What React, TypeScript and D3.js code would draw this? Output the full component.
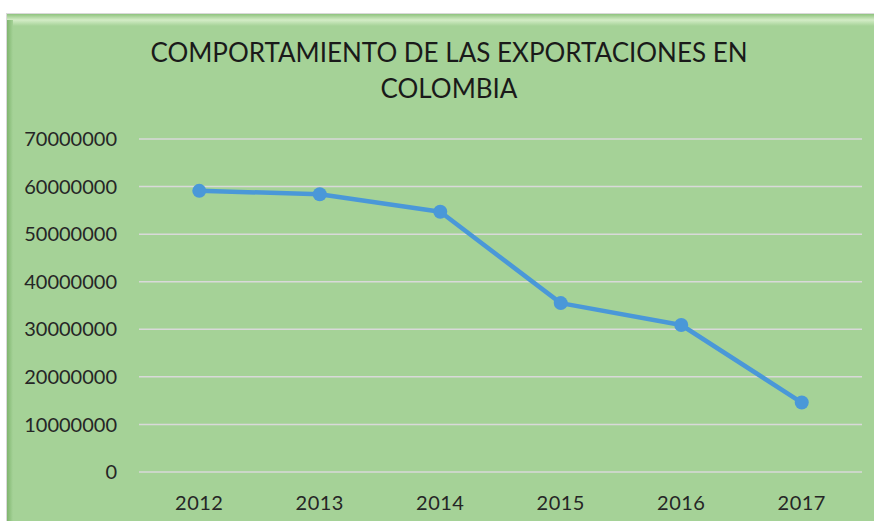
import { useEffect, useRef } from 'react';
import * as d3 from 'd3';

const years = ['2012', '2013', '2014', '2015', '2016', '2017'];
const exports = [59100000, 58400000, 54700000, 35500000, 30900000, 14600000];
const yTicks = [0, 10000000, 20000000, 30000000, 40000000, 50000000, 60000000, 70000000];
const titleLines = ['COMPORTAMIENTO DE LAS EXPORTACIONES EN', 'COLOMBIA'];

const W = 874;
const H = 521;
const FONT = 'Lato, "Liberation Sans", sans-serif';

export default function App() {
  const svgRef = useRef<SVGSVGElement>(null);

  useEffect(() => {
    if (!svgRef.current) return;
    const svg = d3.select(svgRef.current);
    svg.selectAll('*').remove();

    const defs = svg.append('defs');
    const topGrad = defs.append('linearGradient').attr('id', 'topBevel').attr('x1', 0).attr('y1', 0).attr('x2', 0).attr('y2', 1);
    topGrad.append('stop').attr('offset', '0%').attr('stop-color', '#8fc37e');
    topGrad.append('stop').attr('offset', '50%').attr('stop-color', '#d3ecc6');
    topGrad.append('stop').attr('offset', '100%').attr('stop-color', '#a5d297');
    const leftGrad = defs.append('linearGradient').attr('id', 'leftBevel').attr('x1', 0).attr('y1', 0).attr('x2', 1).attr('y2', 0);
    leftGrad.append('stop').attr('offset', '0%').attr('stop-color', '#7fb56e');
    leftGrad.append('stop').attr('offset', '100%').attr('stop-color', '#a5d297');

    // chart area with bevel
    svg.append('rect').attr('x', 0).attr('y', 0).attr('width', W).attr('height', H).attr('fill', '#ffffff');
    svg.append('rect').attr('x', 6).attr('y', 13).attr('width', W - 6).attr('height', H - 13).attr('fill', '#d9d9d9');
    svg.append('rect').attr('x', 7).attr('y', 14).attr('width', W - 7).attr('height', H - 14).attr('fill', '#a5d297');
    svg.append('rect').attr('x', 7).attr('y', 14).attr('width', W - 7).attr('height', 12).attr('fill', 'url(#topBevel)');
    svg.append('rect').attr('x', 7).attr('y', 20).attr('width', 6).attr('height', H - 20).attr('fill', 'url(#leftBevel)');

    const left = 139;
    const right = 862;
    const top = 139;
    const bottom = 472;

    const x = d3.scaleBand<string>().domain(years).range([left, right]);
    const y = d3.scaleLinear().domain([0, 70000000]).range([bottom, top]);

    // gridlines
    svg.append('g')
      .selectAll('line')
      .data(yTicks)
      .join('line')
      .attr('x1', left)
      .attr('x2', right)
      .attr('y1', (d) => y(d))
      .attr('y2', (d) => y(d))
      .attr('stroke', '#d9d9d9')
      .attr('stroke-width', 1.5);

    // y labels
    svg.append('g')
      .selectAll('text')
      .data(yTicks)
      .join('text')
      .attr('x', 117)
      .attr('y', (d) => y(d))
      .attr('dy', '0.36em')
      .attr('text-anchor', 'end')
      .attr('font-family', FONT)
      .attr('font-size', 20)
      .attr('fill', '#262626')
      .text((d) => String(d));

    // x labels
    svg.append('g')
      .selectAll('text')
      .data(years)
      .join('text')
      .attr('x', (d) => (x(d) ?? 0) + x.bandwidth() / 2)
      .attr('y', 510)
      .attr('text-anchor', 'middle')
      .attr('font-family', FONT)
      .attr('font-size', 20)
      .attr('letter-spacing', 0.5)
      .attr('fill', '#262626')
      .text((d) => d);

    // title
    svg.append('g')
      .selectAll('text')
      .data(titleLines)
      .join('text')
      .attr('x', 449)
      .attr('y', (_, i) => 62 + i * 36)
      .attr('text-anchor', 'middle')
      .attr('font-family', FONT)
      .attr('font-size', 26)
      .attr('fill', '#1a1a1a')
      .text((d) => d);

    const pts = years.map((yr, i) => ({ yr, v: exports[i] }));
    const line = d3.line<{ yr: string; v: number }>()
      .x((d) => (x(d.yr) ?? 0) + x.bandwidth() / 2)
      .y((d) => y(d.v));

    svg.append('path')
      .datum(pts)
      .attr('d', line)
      .attr('fill', 'none')
      .attr('stroke', '#4a98d8')
      .attr('stroke-width', 4.5)
      .attr('stroke-linejoin', 'round');

    svg.append('g')
      .selectAll('circle')
      .data(pts)
      .join('circle')
      .attr('cx', (d) => (x(d.yr) ?? 0) + x.bandwidth() / 2)
      .attr('cy', (d) => y(d.v))
      .attr('r', 7)
      .attr('fill', '#4a98d8');
  }, []);

  return (
    <svg
      ref={svgRef}
      width={W}
      height={H}
      style={{ position: 'absolute', left: 0, top: 0, display: 'block' }}
    />
  );
}
